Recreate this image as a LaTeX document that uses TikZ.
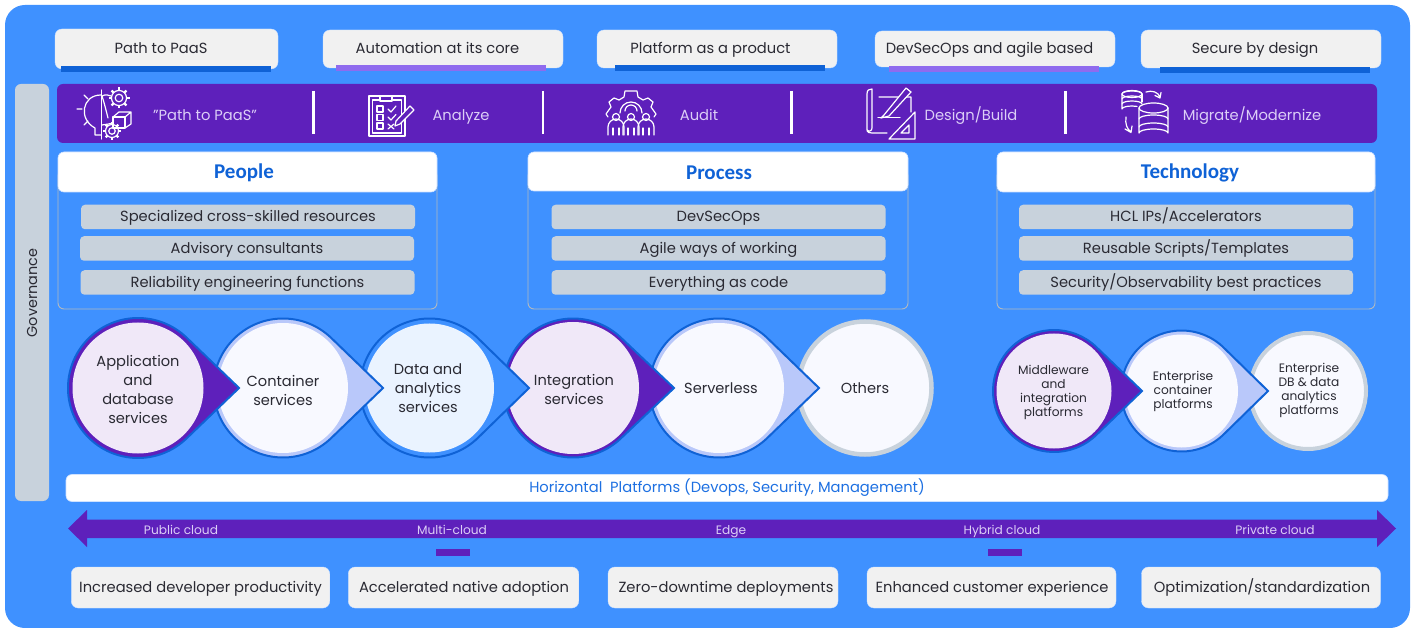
\documentclass[tikz,border=0pt]{standalone}
\usepackage{fontspec}
\setmainfont{Poppins}
\newfontfamily\headfont{Carlito}
\usetikzlibrary{positioning}

\definecolor{pageblue}{HTML}{3F91FF}
\definecolor{deepblue}{HTML}{0F62D6}
\definecolor{bandpurple}{HTML}{5E20BB}
\definecolor{softpurple}{HTML}{8F6BEE}
\definecolor{lavtext}{HTML}{DCCEF7}
\definecolor{govgrey}{HTML}{C8D2DC}
\definecolor{boxgrey}{HTML}{F1F1F1}
\definecolor{inktext}{HTML}{2A2A33}
\definecolor{ringblue}{HTML}{B9C8FA}
\definecolor{palelilac}{HTML}{F0E8F8}
\definecolor{paleblue}{HTML}{F8F9FF}
\definecolor{iceblue}{HTML}{EAF3FF}
\definecolor{paleedge}{HTML}{CFE2FF}

\tikzset{
  x=1pt, y=-1pt,
  every node/.style={inner sep=0pt, outer sep=0pt, align=center, text=inktext},
  graybox/.style={fill=boxgrey, draw=paleedge, line width=.4pt, rounded corners=7pt},
  bodytext/.style={font=\fontsize{14.7}{17}\selectfont, text height=12.5pt, text depth=3pt},
  headbox/.style={fill=white, draw=paleedge, line width=.6pt, rounded corners=6pt},
  headtext/.style={font=\headfont\bfseries\fontsize{21}{24}\selectfont, text=deepblue},
  panelbody/.style={draw=govgrey!70!gray, line width=.9pt, rounded corners=6pt},
  pillbox/.style={bodytext, fill=govgrey, rounded corners=4pt, minimum width=334, minimum height=24.5},
  bandtext/.style={bodytext, text=lavtext},
  cloudtext/.style={text=lavtext, font=\fontsize{12.2}{14}\selectfont, text height=10pt, text depth=2.5pt},
  circletext/.style={font=\fontsize{14.6}{19}\selectfont},
  smalltext/.style={font=\fontsize{12.2}{14}\selectfont},
  iconline/.style={draw=white, line width=1.2pt, line join=round, line cap=round},
  teardark/.style={fill=bandpurple, draw=deepblue, line width=2pt, line join=miter},
  tearsoft/.style={fill=ringblue, draw=deepblue, line width=2pt, line join=miter},
  tearblue/.style={fill=pageblue, draw=deepblue, line width=2pt, line join=miter},
}

% centre x, centre y, radius, tip x, style
\newcommand{\teardrop}[5]{%
  \pgfmathsetmacro\tipang{acos(#3/(#4-#1))}
  \path[#5] (#4,#2) -- ({#1+#3*cos(\tipang)},{#2+#3*sin(\tipang)})
    arc[start angle=\tipang, end angle=360-\tipang, radius=#3] -- cycle;}

% centre x, centre y, radius
\newcommand{\geartool}[3]{%
  \draw[iconline] (#1,#2) circle (#3*.72);
  \draw[iconline] (#1,#2) circle (#3*.36);
  \foreach \ang in {0,45,...,315}
    \draw[iconline, line width=2.2pt, line cap=butt] ({#1+#3*.72*cos(\ang)},{#2+#3*.72*sin(\ang)}) -- ({#1+#3*cos(\ang)},{#2+#3*sin(\ang)});}

\begin{document}
\begin{tikzpicture}
    \useasboundingbox (0,0) rectangle (1414,628);
    \fill[white] (0,0) rectangle (1414,628);
    \fill[pageblue, rounded corners=20pt] (5,5) rectangle (1410,628);

    % top row
    \node (paasbox) [graybox, minimum width=223, minimum height=40] at (166.5,49) {};
    \node (autobox) [graybox, minimum width=240, minimum height=38] at (443,49) {};
    \node (platbox) [graybox, minimum width=240, minimum height=38] at (717,49) {};
    \node (devsbox) [graybox, minimum width=240, minimum height=36] at (995,49) {};
    \node (secubox) [graybox, minimum width=240, minimum height=38] at (1261,49) {};
    \fill[deepblue] (61,66) rectangle (271,72);
    \fill[softpurple] (336,65) rectangle (546,71);
    \fill[deepblue] (615,65) rectangle (825,71);
    \fill[softpurple] (889,66) rectangle (1099,72);
    \fill[deepblue] (1160,67) rectangle (1370,73);
    \node (paas) [bodytext] at (161,49) {Path to PaaS};
    \node (auto) [bodytext] at (437.5,49) {Automation at its core};
    \node (plat) [bodytext] at (710.5,49) {Platform as a product};
    \node (devs) [bodytext] at (989.5,49) {DevSecOps and agile based};
    \node (secu) [bodytext] at (1255,49) {Secure by design};

    % governance and band
    \node (gov) [fill=govgrey, rounded corners=6pt, minimum width=34, minimum height=417] at (32,292.5) {};
    \node (govtext) [rotate=90, font=\fontsize{14.4}{17}\selectfont] at (32,293) {Governance};
    \node (band) [fill=bandpurple, rounded corners=6pt, minimum width=1320, minimum height=59] at (717,113.5) {};
    \node (bandA) [bandtext] at (205,116) {"Path to PaaS"};
    \node (bandB) [bandtext] at (461,116) {Analyze};
    \node (bandC) [bandtext] at (699,116) {Audit};
    \node (bandD) [bandtext] at (971,116) {Design/Build};
    \node (bandE) [bandtext] at (1252,116) {Migrate/Modernize};
    \foreach \sepx in {313.5,543,791.5,1065.5}
        \draw[white, line width=2.4pt] (\sepx,91) -- (\sepx,134.5);

    % bulb icon
    \draw[iconline] (101.5,90) -- (101.5,139);
    \draw[iconline] (101,95) .. controls (82,95) and (78,119) .. (95,128) -- (95,135) -- (101,135);
    \draw[iconline] (77,109) -- (82,109) (84,95) -- (88,99) (84,125) -- (88,121);
    \draw[iconline] (102,96) .. controls (106,94) and (108,95) .. (111,96) (102,125) .. controls (108,124) and (110,124) .. (113,123) (102,96) .. controls (104,102) and (106,110) .. (108,118);
    \draw[iconline] (113,117) rectangle (125,128);
    \draw[iconline] (113,117) -- (119,112) -- (131,112) -- (125,117) (131,112) -- (131,124) -- (125,128);
    \geartool{119}{98}{10.5}
    \geartool{112}{131}{9}

    % clipboard icon
    \draw[iconline] (369,96) rectangle (405,136);
    \draw[iconline] (372.5,100) rectangle (401.5,133);
    \draw[iconline, fill=bandpurple] (380,96) rectangle (392,101);
    \foreach \rowy in {106,114.5,123} {
        \draw[iconline] (377,\rowy) rectangle (383,\rowy+6);
    }
    \draw[iconline] (388,109) -- (391,112) -- (396,106) (388,117) -- (391,120) -- (396,114.5) (388,124) -- (394,129) (394,124) -- (388,129);
    \draw[iconline, fill=bandpurple] (396,121) -- (410,106) -- (414,110) -- (400,124) -- (395,126) -- cycle;

    % audit icon
    \draw[iconline] (608,117) -- (606,114) -- (611,107) -- (609,102) -- (614,98) -- (619,100) -- (624,97) -- (625,91) -- (637,91) -- (638,97) -- (643,100) -- (648,98) -- (653,102) -- (651,107) -- (656,114) -- (654,117);
    \draw[iconline] (620,113) arc[start angle=180, end angle=360, radius=11];
    \draw[iconline] (625,111) arc[start angle=180, end angle=360, radius=6];
    \foreach \headx in {616,631,646} {
        \draw[iconline] (\headx,117) circle (3.5);
        \draw[iconline] (\headx-8,135) -- (\headx-8,127) arc[start angle=180, end angle=360, radius=8] -- (\headx+8,135);
        \draw[iconline] (\headx-3,128) -- (\headx-3,135) (\headx+3,128) -- (\headx+3,135);
    }

    % blueprint icon
    \draw[iconline] (879,97) -- (911,97) -- (911,112) (887,133) -- (872,133) .. controls (866,133) and (867,130) .. (867,127) -- (867,94) .. controls (867,90) and (869,89) .. (872,89) -- (872,128) .. controls (872,131) and (869,132) .. (867,130);
    \draw[iconline, fill=bandpurple] (884,115) -- (906,88) -- (911,92) -- (889,116) -- (881,118) -- cycle;
    \draw[iconline] (878,117.5) -- (900,117.5);
    \draw[iconline, fill=bandpurple] (889,139) -- (915,112) -- (915,139) -- cycle;
    \draw[iconline] (901,133) -- (909,125) -- (909,133) -- cycle;

    % database icon
    \foreach \diskb in {94,99,104} {
        \draw[iconline] (1122,\diskb) arc[start angle=180, end angle=360, x radius=10, y radius=3];
    }
    \draw[iconline] (1132,94) ellipse (10 and 3.5);
    \draw[iconline] (1122,94) -- (1122,109) arc[start angle=180, end angle=300, x radius=10, y radius=3];
    \draw[iconline] (1142,94) -- (1142,102);
    \draw[iconline, fill=bandpurple] (1139,108) -- (1139,133) arc[start angle=180, end angle=360, x radius=14.5, y radius=4] -- (1168,108);
    \draw[iconline, fill=bandpurple] (1153.5,108) ellipse (14.5 and 5);
    \draw[iconline] (1139,119) arc[start angle=180, end angle=360, x radius=14.5, y radius=4];
    \draw[iconline] (1139,127) arc[start angle=180, end angle=360, x radius=14.5, y radius=4];
    \draw[iconline] (1146,92) .. controls (1152,90) and (1158,92) .. (1160,97) (1155,95.5) -- (1160,98) -- (1161,92.5);
    \draw[iconline] (1126,117) .. controls (1125,124) and (1127,129) .. (1131,132) (1125,129) -- (1131,132.5) -- (1132,126);

    % panels
    \draw[panelbody] (58,170) rectangle (437,309);
    \draw[panelbody] (528,170) rectangle (908,309);
    \draw[panelbody] (997,170) rectangle (1375,309);
    \node (peoplebox) [headbox, minimum width=379, minimum height=40] at (247.5,172) {};
    \node (processbox) [headbox, minimum width=380, minimum height=39] at (718,171.5) {};
    \node (technobox) [headbox, minimum width=378, minimum height=40] at (1186,172) {};
    \node (people) [headtext] at (244,172.5) {People};
    \node (process) [headtext] at (719,173) {Process};
    \node (techno) [headtext] at (1190,172.5) {Technology};
    \node (peopleA) [pillbox] at (248,217) {Specialized cross-skilled resources};
    \node (peopleB) [pillbox] at (247,248.5) {Advisory consultants};
    \node (peopleC) [pillbox] at (247.5,282.5) {Reliability engineering functions};
    \node (processA) [pillbox] at (718.5,217) {DevSecOps};
    \node (processB) [pillbox] at (718.5,248.5) {Agile ways of working};
    \node (processC) [pillbox] at (718.5,282.5) {Everything as code};
    \node (technoA) [pillbox] at (1186,217) {HCL IPs/Accelerators};
    \node (technoB) [pillbox] at (1186,248.5) {Reusable Scripts/Templates};
    \node (technoC) [pillbox] at (1186,282.5) {Security/Observability best practices};

    % service circles, drawn from the right so each tip lies on its neighbour
    \node (othersC) [circle, fill=paleblue, draw=govgrey, line width=4.5pt, minimum size=133] at (865,388) {};
    \node (others) [circletext] at (865,388.5) {Others};
    \teardrop{719}{388}{69.5}{819}{tearsoft}
    \node (serverC) [circle, fill=paleblue, minimum size=130] at (719,388) {};
    \node (server) [circletext] at (721,388.5) {Serverless};
    \teardrop{573}{388}{69.5}{674}{teardark}
    \node (integC) [circle, fill=palelilac, minimum size=132] at (573,388) {};
    \node (integ) [circletext] at (574,389.5) {Integration\\services};
    \teardrop{429.5}{388}{69.5}{529}{tearblue}
    \node (dataC) [circle, fill=iceblue, minimum size=129] at (429.5,388) {};
    \node (data) [circletext] at (428,388) {Data and\\analytics\\services};
    \teardrop{283}{388}{69.5}{383}{tearsoft}
    \node (containC) [circle, fill=paleblue, minimum size=130] at (283,388) {};
    \node (contain) [circletext] at (283,391) {Container\\services};
    \teardrop{138}{388}{70}{239}{teardark}
    \node (appdbC) [circle, fill=palelilac, minimum size=131] at (138,388) {};
    \node (appdb) [circletext] at (138,389.5) {Application\\and\\database\\services};

    % platform circles
    \node (edbC) [circle, fill=paleblue, draw=govgrey, line width=4pt, minimum size=116] at (1308,391) {};
    \node (edb) [smalltext] at (1309,390) {Enterprise\\DB \& data\\analytics\\platforms};
    \teardrop{1181.5}{391}{60.5}{1268}{tearsoft}
    \node (econtC) [circle, fill=paleblue, minimum size=113] at (1181.5,391) {};
    \node (econt) [smalltext] at (1183,391) {Enterprise\\container\\platforms};
    \teardrop{1054}{391}{61}{1142}{teardark}
    \node (middleC) [circle, fill=palelilac, minimum size=115] at (1054,391) {};
    \node (middle) [smalltext] at (1053.5,392) {Middleware\\and\\integration\\platforms};

    % horizontal bar
    \node (horiz) [bodytext, fill=white, draw=paleedge, line width=.6pt, rounded corners=6pt, minimum width=1322, minimum height=27, text=deepblue!70!pageblue] at (727,488) {Horizontal\ \ Platforms (Devops, Security, Management)};

    % cloud arrow
    \fill[bandpurple] (68,528.5) -- (87,510) -- (87,519.5) -- (1377,519.5) -- (1377,510) -- (1396,528.5) -- (1377,547) -- (1377,538) -- (87,538) -- (87,547) -- cycle;
    \node (cloudA) [cloudtext] at (181,530.5) {Public cloud};
    \node (cloudB) [cloudtext] at (452,530.5) {Multi-cloud};
    \node (cloudC) [cloudtext] at (731,530.5) {Edge};
    \node (cloudD) [cloudtext] at (1002,530.5) {Hybrid cloud};
    \node (cloudE) [cloudtext] at (1275,530.5) {Private cloud};
    \fill[bandpurple] (436,549) rectangle (470,556);
    \fill[bandpurple] (988,549) rectangle (1022,556);

    % bottom row
    \node (gainAbox) [graybox, minimum width=258.5, minimum height=41] at (200.5,587.5) {};
    \node (gainBbox) [graybox, minimum width=230.5, minimum height=41] at (463.5,587.5) {};
    \node (gainCbox) [graybox, minimum width=230, minimum height=41] at (723,587.5) {};
    \node (gainDbox) [graybox, minimum width=249, minimum height=41] at (991.5,587.5) {};
    \node (gainEbox) [graybox, minimum width=239, minimum height=41] at (1261,587.5) {};
    \node (gainA) [bodytext] at (200.5,587.5) {Increased developer productivity};
    \node (gainB) [bodytext] at (464,587.5) {Accelerated native adoption};
    \node (gainC) [bodytext] at (726,587.5) {Zero-downtime deployments};
    \node (gainD) [bodytext] at (992,587.5) {Enhanced customer experience};
    \node (gainE) [bodytext] at (1262,587.5) {Optimization/standardization};
\end{tikzpicture}
\end{document}
